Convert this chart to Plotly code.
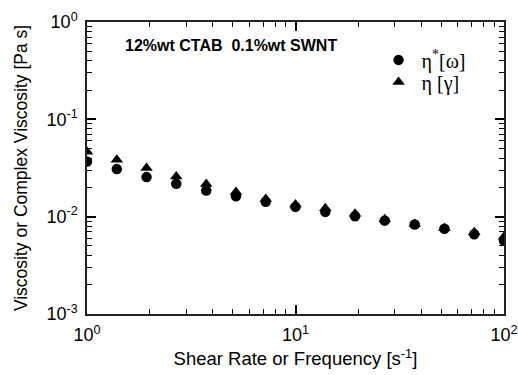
import plotly.graph_objects as go

rate = [1.0, 1.39, 1.93, 2.68, 3.73, 5.18, 7.2, 10.0, 13.9, 19.3, 26.8, 37.3, 51.8, 72.0, 100.0]
eta_complex = [0.0369, 0.0308, 0.0255, 0.0218, 0.0186, 0.0162, 0.0142, 0.0126,
               0.0112, 0.0101, 0.0091, 0.0083, 0.0075, 0.0066, 0.0057]
eta_shear = [0.0464, 0.0385, 0.0316, 0.0259, 0.0216, 0.0179, 0.0152, 0.0133,
             0.0122, 0.0107, 0.0094, 0.0084, 0.0076, 0.0069, 0.0062]

x_ticks = [1, 10, 100]
x_ticktext = ["10<sup>0</sup>", "10<sup>1</sup>", "10<sup>2</sup>"]
y_ticks = [0.001, 0.01, 0.1, 1]
y_ticktext = ["10<sup>-3</sup>", "10<sup>-2</sup>", "10<sup>-1</sup>", "10<sup>0</sup>"]

minor_x = [m * d for d in [1, 10] for m in range(2, 10)]
minor_y = [m * d for d in [0.001, 0.01, 0.1] for m in range(2, 10)]

FONT = "Liberation Sans, Arial"
SERIF = "Liberation Serif, Times New Roman"

fig = go.Figure()
fig.add_trace(go.Scatter(x=rate, y=eta_complex, mode="markers", name="η<sup>*</sup>[ω]",
                         legend="legend",
                         marker=dict(symbol="circle", size=10.5, color="black")))
fig.add_trace(go.Scatter(x=rate, y=eta_shear, mode="markers", name="η [γ]",
                         legend="legend2",
                         marker=dict(symbol="triangle-up", size=11, color="black")))

axis_common = dict(type="log", showgrid=False, zeroline=False, showline=True,
                   linecolor="#222", linewidth=1.5, mirror="ticks", ticks="inside",
                   ticklen=9, tickwidth=2, tickcolor="black", tickmode="array",
                   automargin=False, ticklabelstandoff=4,
                   tickfont=dict(family=FONT, size=18, color="black"))

fig.update_xaxes(**axis_common, range=[0, 2], tickvals=x_ticks, ticktext=x_ticktext,
                 minor=dict(tickmode="array", tickvals=minor_x, ticks="inside", ticklen=5,
                            tickwidth=1, tickcolor="black"),
                 title=dict(text="Shear Rate or Frequency [s<sup>-1</sup>]", standoff=8,
                            font=dict(family=FONT, size=18.5, color="black")))
fig.update_yaxes(**axis_common, range=[-3, 0], tickvals=y_ticks, ticktext=y_ticktext,
                 minor=dict(tickmode="array", tickvals=minor_y, ticks="inside", ticklen=5,
                            tickwidth=1, tickcolor="black"),
                 title=dict(text="Viscosity or Complex Viscosity [Pa s]", standoff=14,
                            font=dict(family=FONT, size=17.5, color="black")))

fig.add_annotation(text="<b>12%wt CTAB&nbsp;&nbsp;0.1%wt SWNT</b>", xref="paper", yref="paper",
                   x=0.086, y=0.92, xanchor="left", yanchor="middle", showarrow=False,
                   font=dict(family=FONT, size=16, color="black"))

leg_common = dict(xanchor="left", yanchor="top", bgcolor="rgba(0,0,0,0)",
                  font=dict(family=SERIF, size=20, color="black"), itemwidth=36)

fig.update_layout(
    width=518, height=375,
    margin=dict(l=87, r=14, t=22, b=61),
    paper_bgcolor="white", plot_bgcolor="white",
    showlegend=True,
    legend=dict(x=0.692, y=0.937, **leg_common),
    legend2=dict(x=0.692, y=0.861, **leg_common),
)

fig.write_html("out.html")
